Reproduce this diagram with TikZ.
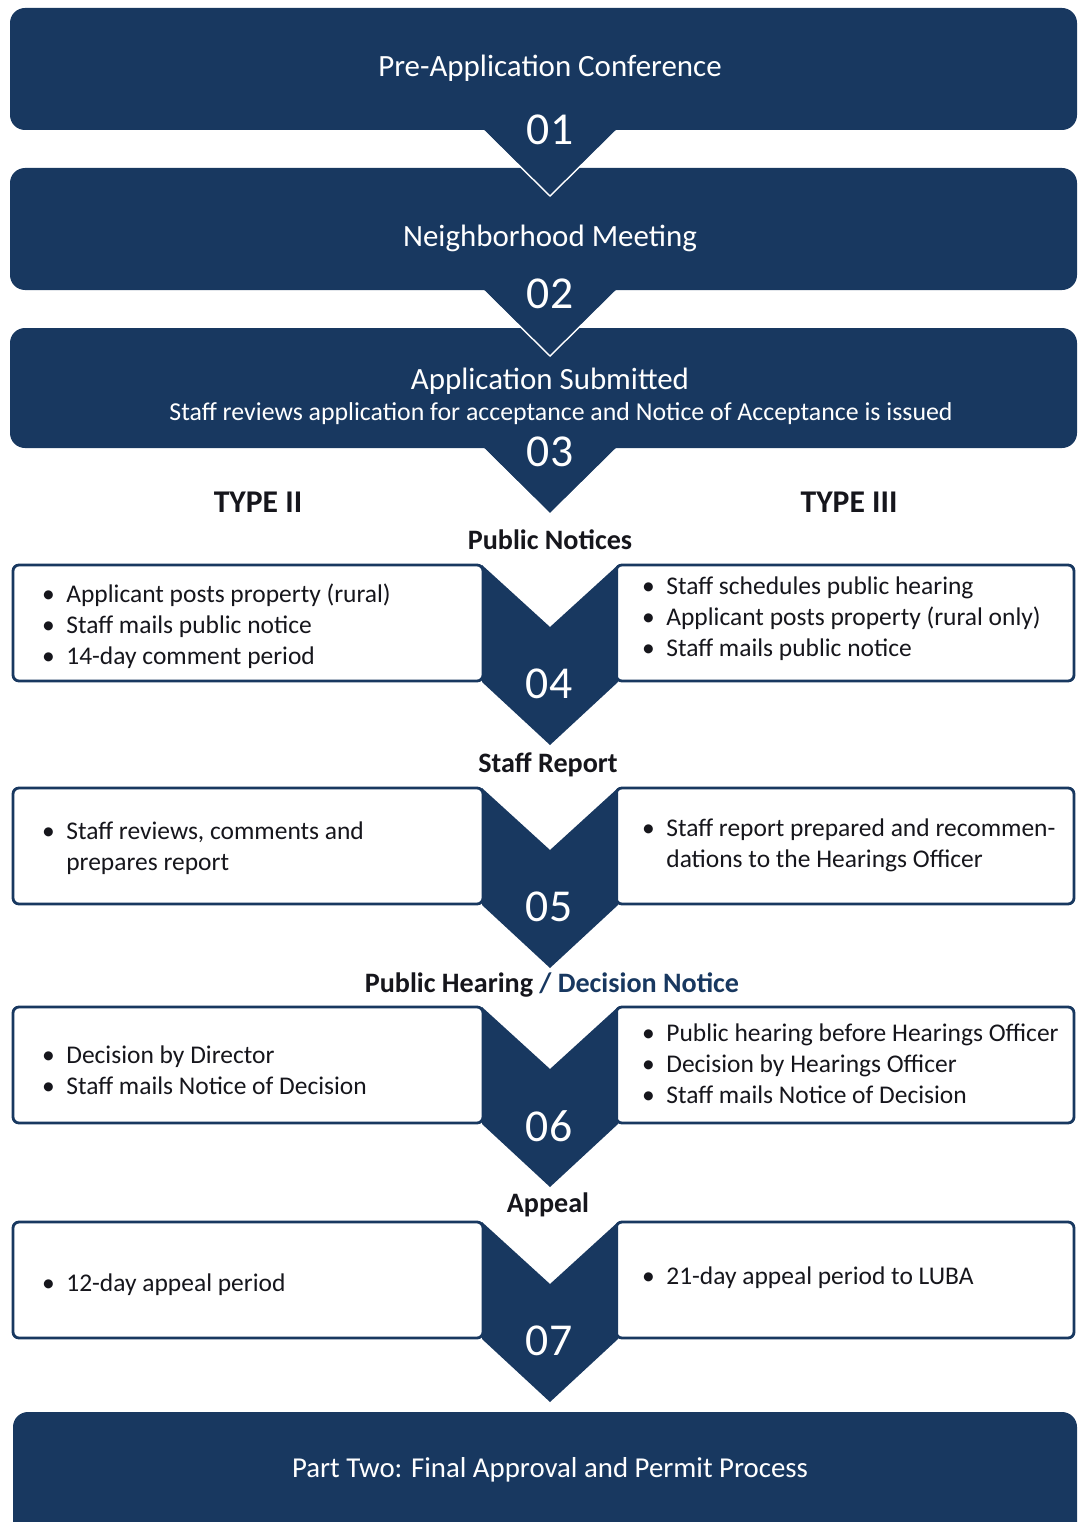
\documentclass[tikz,border=0pt]{standalone}
\usepackage{fontspec}
\setmainfont{Carlito}
\usetikzlibrary{positioning}
\definecolor{navy}{RGB}{24,56,96}
\definecolor{ink}{RGB}{22,22,28}

\tikzset{
  bar/.style={fill=navy, rounded corners=3mm},
  bartext/.style={text=white, font=\fontsize{17.6}{20}\selectfont},
  stepno/.style={text=white, font=\fontsize{26}{30}\selectfont},
  panel/.style={draw=navy, line width=1.6pt, fill=white, rounded corners=1.2mm},
  heading/.style={text=ink, font=\bfseries\fontsize{16}{19}\selectfont},
  items/.style={anchor=west, align=left, text=ink, font=\fontsize{14.5}{17.6}\selectfont},
}
\newcommand{\itm}{\textbullet\hspace{0.45em}}
\newcommand{\hang}{\phantom{\textbullet}\hspace{0.45em}}

\begin{document}
\begin{tikzpicture}[x=0.2mm,y=-0.2mm]
  \clip (0,0) rectangle (1078,1522);
  \fill[white] (0,0) rectangle (1078,1522);

  % the three stacked banners and their pointers
  \fill[bar] (10,8) rectangle (1077,130);
  \fill[bar] (10,168) rectangle (1077,290);
  \fill[bar] (10,328) rectangle (1077,448);
  \foreach \b in {130,290,448} {
    \fill[navy] (484,\b) -- (616,\b) -- (550,\b+66) -- cycle;
    \draw[white, line width=0.8pt] (484,\b+1) -- (550,\b+66) -- (616,\b+1);
  }
  \node[bartext] (conf) at (550,68) {Pre-Application Conference};
  \node[stepno] (s01) at (550,130) {01};
  \node[bartext] (meet) at (550,238) {Neighborhood Meeting};
  \node[stepno] (s02) at (550,294) {02};
  \node[bartext] (subm) at (550,381) {Application Submitted};
  \node[text=white, font=\fontsize{14.7}{17}\selectfont] (subm-note) at (561,414)
    {Staff reviews application for acceptance and Notice of Acceptance is issued};
  \node[stepno] (s03) at (550,452) {03};

  \node[heading, font=\bfseries\fontsize{18}{21}\selectfont] (type2) at (258,502) {TYPE II};
  \node[heading, font=\bfseries\fontsize{18}{21}\selectfont] (type3) at (849,502) {TYPE III};

  % white panels on each side
  \foreach \t in {565,788,1007,1222} {
    \draw[panel] (13,\t) rectangle (483,\t+116);
    \draw[panel] (616,\t) rectangle (1074,\t+116);
  }

  % chevrons between the panels
  \foreach \t/\n in {565/04,788/05,1007/06,1222/07} {
    \fill[navy] (482,\t) -- (550,\t+62) -- (618,\t) -- (618,\t+117)
      -- (550,\t+180) -- (482,\t+117) -- cycle;
    \node[stepno] (s\n) at (549,\t+119) {\n};
  }

  % step headings
  \node[heading] (notices) at (550,540) {Public Notices};
  \node[heading] (report) at (548,765) {Staff Report};
  \node[heading] (hearing) at (552,985) {Public Hearing \textcolor{navy}{/ Decision Notice}};
  \node[heading] (appeal) at (548,1205) {Appeal};

  % Type II items
  \node[items] (n2) at (36,626) {\itm Applicant posts property (rural)\\
    \itm Staff mails public notice\\ \itm 14-day comment period};
  \node[items] (r2) at (36,848) {\itm Staff reviews, comments and\\ \hang prepares report};
  \node[items] (h2) at (36,1070) {\itm Decision by Director\\ \itm Staff mails Notice of Decision};
  \node[items] (a2) at (36,1285) {\itm 12-day appeal period};

  % Type III items
  \node[items] (n3) at (636,619) {\itm Staff schedules public hearing\\
    \itm Applicant posts property (rural only)\\ \itm Staff mails public notice};
  \node[items] (r3) at (636,845) {\itm Staff report prepared and recommen-\\
    \hang dations to the Hearings Officer};
  \node[items] (h3) at (636,1064) {\itm Public hearing before Hearings Officer\\
    \itm Decision by Hearings Officer\\ \itm Staff mails Notice of Decision};
  \node[items] (a3) at (636,1278) {\itm 21-day appeal period to LUBA};

  % closing banner
  \fill[bar] (13,1412) rectangle (1077,1580);
  \node[bartext, font=\fontsize{16.4}{19}\selectfont] (part2) at (550,1470)
    {Part Two: Final Approval and Permit Process};
\end{tikzpicture}
\end{document}
